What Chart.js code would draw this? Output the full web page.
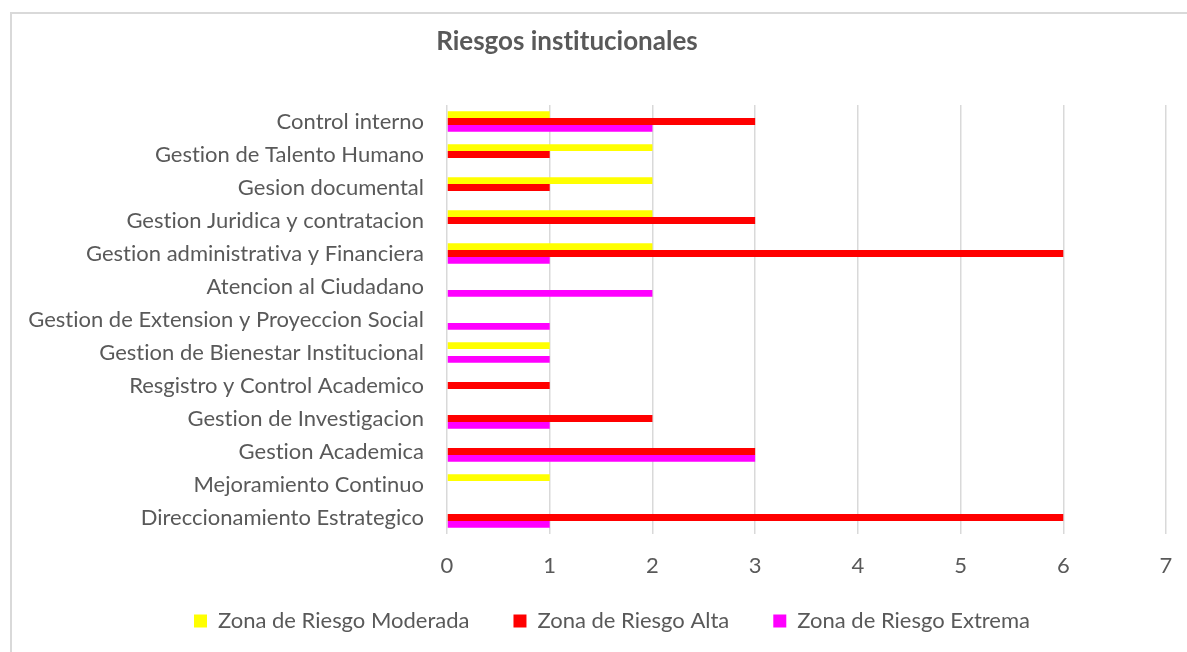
<!DOCTYPE html>
<html>
<head>
<meta charset="utf-8">
<script src="https://cdn.jsdelivr.net/npm/chart.js@4/dist/chart.umd.min.js"></script>
<style>
  html, body { margin: 0; padding: 0; background: #fff; }
  #wrap { position: relative; width: 1187px; height: 652px; overflow: hidden; }
  #frame { position: absolute; left: 10px; top: 12px; width: 1300px; height: 800px; border: 2px solid #d9d9d9; box-sizing: border-box; }
  #title { position: absolute; left: 0; top: 22px; width: 1134px; text-align: center; font-family: Lato, sans-serif; font-weight: bold; font-size: 26px; color: #595959; line-height: 36px; text-rendering: optimizeSpeed; }
  canvas { position: absolute; left: 0; top: 0; }
</style>
</head>
<body>
<div id="wrap">
  <div id="frame"></div>
  <canvas id="c" width="1187" height="652"></canvas>
  <div id="title">Riesgos institucionales</div>
</div>
<script>
const categories = [
  "Control interno",
  "Gestion de Talento Humano",
  "Gesion documental",
  "Gestion Juridica y contratacion",
  "Gestion administrativa y Financiera",
  "Atencion al Ciudadano",
  "Gestion de Extension y Proyeccion Social",
  "Gestion de Bienestar Institucional",
  "Resgistro y Control Academico",
  "Gestion de Investigacion",
  "Gestion Academica",
  "Mejoramiento Continuo",
  "Direccionamiento Estrategico"
];
const seriesNames = ["Zona de Riesgo Moderada", "Zona de Riesgo Alta", "Zona de Riesgo Extrema"];
const moderada = [1, 2, 2, 2, 2, 0, 0, 1, 0, 0, 0, 1, 0];
const alta     = [3, 1, 1, 3, 6, 0, 0, 0, 1, 2, 3, 0, 6];
const extrema  = [2, 0, 0, 0, 1, 2, 1, 1, 0, 1, 3, 0, 1];
const xTicks = [0, 1, 2, 3, 4, 5, 6, 7];
const colors = ["#FFFF00", "#FF0000", "#FF00FF"];

const txt = "#595959";
const fam = "Lato, sans-serif";

const noLigatures = {
  id: "noLigatures",
  beforeUpdate(chart) { chart.ctx.textRendering = "optimizeSpeed"; },
  beforeDraw(chart) { chart.ctx.textRendering = "optimizeSpeed"; }
};
const placeLegend = {
  id: "placeLegend",
  afterLayout(chart) {
    const lg = chart.legend;
    if (lg) {
      const h = lg.height;
      lg.left += 29; lg.right += 29;
      lg.top = 566; lg.bottom = 566 + h;
    }
  }
};

new Chart(document.getElementById("c"), {
  type: "bar",
  data: {
    labels: categories,
    datasets: [moderada, alta, extrema].map((d, i) => ({
      label: seriesNames[i],
      data: d,
      backgroundColor: colors[i],
      borderWidth: 0,
      categoryPercentage: 0.62,
      barPercentage: 1.0
    }))
  },
  plugins: [noLigatures, placeLegend],
  options: {
    indexAxis: "y",
    responsive: false,
    animation: false,
    devicePixelRatio: 1,
    layout: { padding: { left: 0, right: 21, top: 105, bottom: -20 } },
    plugins: {
      title: { display: false },
      tooltip: { enabled: false },
      legend: {
        position: "bottom",
        labels: {
          boxWidth: 13,
          boxHeight: 13,
          padding: 44,
          color: txt,
          font: { family: fam, size: 22 }
        }
      }
    },
    scales: {
      x: {
        min: 0, max: 7,
        afterBuildTicks: (s) => { s.ticks = xTicks.map(v => ({ value: v })); },
        grid: { color: "#d9d9d9", lineWidth: 1.5, drawTicks: false },
        border: { display: false },
        ticks: { color: txt, font: { family: fam, size: 22 }, padding: 19 },
        afterFit: (s) => { s.height = 62; s.paddingLeft = 0; s.paddingRight = 0; }
      },
      y: {
        grid: { display: false, drawTicks: false },
        border: { display: false },
        ticks: { color: txt, font: { family: fam, size: 22 }, padding: 23, autoSkip: false },
        afterFit: (s) => { s.width = 447; }
      }
    }
  }
});
</script>
</body>
</html>
